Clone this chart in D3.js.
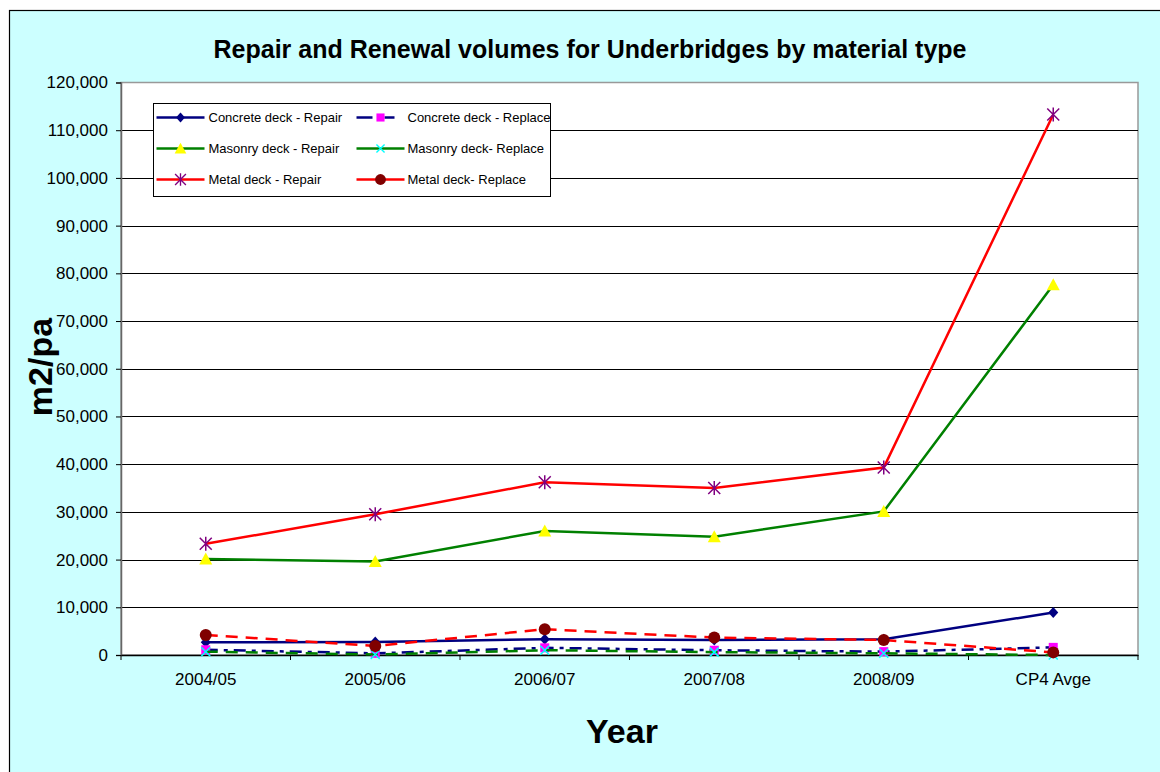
<html>
<head>
  <title>Repair and Renewal volumes</title>
  <script src="https://d3js.org/d3.v7.min.js"></script>
  <style>
    body { margin: 0; background: #fff; }
    text { font-family: Arial, "Liberation Sans", sans-serif; fill: #000; }
  </style>
</head>
<body>
<script>
  // categories and tick values
  var years = ['2004/05', '2005/06', '2006/07', '2007/08', '2008/09', 'CP4 Avge']
  var yTicks = [0, 10000, 20000, 30000, 40000, 50000, 60000, 70000, 80000, 90000, 100000, 110000, 120000]

  // series values (m2 per annum)
  var concreteRepair  = [2650, 2750, 3300, 3150, 3300, 8900]
  var concreteReplace = [1100, 350, 1500, 1000, 700, 1600]
  var masonryRepair   = [20100, 19600, 26000, 24800, 30100, 77600]
  var masonryReplace  = [700, 100, 1000, 600, 350, 0]
  var metalRepair     = [23300, 29500, 36200, 35000, 39300, 113300]
  var metalReplace    = [4200, 1900, 5400, 3650, 3150, 550]

  var seriesNames = ['Concrete deck - Repair', 'Concrete deck - Replace', 'Masonry deck - Repair',
                     'Masonry deck- Replace', 'Metal deck - Repair', 'Metal deck- Replace']

  var series = [
    { name: seriesNames[0], values: concreteRepair,  line: '#000080', dash: null,        marker: 'diamond',  mfill: '#000080' },
    { name: seriesNames[1], values: concreteReplace, line: '#000080', dash: '12,6,4,6',  marker: 'square',   mfill: '#FF00FF' },
    { name: seriesNames[2], values: masonryRepair,   line: '#008000', dash: null,        marker: 'triangle', mfill: '#FFFF00' },
    { name: seriesNames[3], values: masonryReplace,  line: '#008000', dash: '12,8',      marker: 'cross',    mfill: '#00FFFF' },
    { name: seriesNames[4], values: metalRepair,     line: '#FF0000', dash: null,        marker: 'star',     mfill: '#800080' },
    { name: seriesNames[5], values: metalReplace,    line: '#FF0000', dash: '12,8',      marker: 'circle',   mfill: '#800000' }
  ]

  var W = 1160, H = 772
  var margin = { top: 82.5, right: 22, bottom: 117, left: 121 }
  var w = W - margin.left - margin.right
  var h = H - margin.top - margin.bottom

  var svg = d3.select('body').append('svg')
      .attr('width', W)
      .attr('height', H)

  // chart background + frame
  svg.append('rect')
      .attr('x', 9.5).attr('y', 10.5)
      .attr('width', W).attr('height', H)
      .attr('fill', '#CCFFFF')
      .attr('stroke', '#000')
      .attr('stroke-width', 1.2)

  var g = svg.append('g')
      .attr('transform', 'translate(' + margin.left + ',' + margin.top + ')')

  // Scales
  var xScale = d3.scaleBand().domain(years).range([0, w]).padding(0)
  var yScale = d3.scaleLinear().domain([0, 120000]).range([h, 0])
  var cx = function (i) { return xScale(years[i]) + xScale.bandwidth() / 2 }

  // plot area
  g.append('rect')
      .attr('width', w).attr('height', h)
      .attr('fill', '#fff')
      .attr('stroke', '#999')
      .attr('stroke-width', 1.5)

  // gridlines
  g.selectAll('.grid')
      .data(yTicks.slice(1, -1))
      .enter()
    .append('line')
      .attr('x1', 0).attr('x2', w)
      .attr('y1', function (d) { return Math.round(yScale(d) + margin.top) - margin.top + 0.5 })
      .attr('y2', function (d) { return Math.round(yScale(d) + margin.top) - margin.top + 0.5 })
      .attr('stroke', '#000')
      .attr('stroke-width', 1)

  // Y-axis
  var yAxis = d3.axisLeft(yScale)
    .tickValues(yTicks)
    .tickSize(5)
    .tickPadding(8)
    .tickFormat(d3.format(','))
  var ya = g.append('g').call(yAxis)
  ya.select('.domain').attr('stroke', '#666').attr('stroke-width', 1.5)
  ya.selectAll('.tick line').attr('stroke', '#000')
  ya.selectAll('text').style('font-size', '17px').attr('fill', '#000')

  // X-axis
  var xAxis = d3.axisBottom(xScale).tickSize(0).tickPadding(18)
  var xa = g.append('g')
      .attr('transform', 'translate(0,' + h + ')')
      .call(xAxis)
  xa.select('.domain').attr('stroke', '#000').attr('stroke-width', 1.5)
  xa.selectAll('text').style('font-size', '17px').attr('fill', '#000')
  xa.selectAll('.xtick')
      .data(years.concat(['end']))
      .enter()
    .append('line')
      .attr('x1', function (d) { return d === 'end' ? w : xScale(d) })
      .attr('x2', function (d) { return d === 'end' ? w : xScale(d) })
      .attr('y1', 0).attr('y2', 5)
      .attr('stroke', '#000')

  // markers
  function drawMarker(sel, type, fill, size) {
    var s = size || 1
    if (type === 'diamond') {
      sel.append('path').attr('d', 'M0,-5.5L5,0L0,5.5L-5,0Z').attr('fill', fill).attr('transform', 'scale(' + s + ')')
    } else if (type === 'square') {
      sel.append('rect').attr('x', -4.5 * s).attr('y', -4.5 * s).attr('width', 9 * s).attr('height', 9 * s).attr('fill', fill)
    } else if (type === 'triangle') {
      sel.append('path').attr('d', 'M0,-6.5L6.5,5.5L-6.5,5.5Z').attr('fill', fill).attr('transform', 'scale(' + s + ')')
    } else if (type === 'cross') {
      sel.append('path').attr('d', 'M-4.5,-4.5L4.5,4.5M-4.5,4.5L4.5,-4.5').attr('stroke', fill).attr('stroke-width', 1.5).attr('transform', 'scale(' + s + ')')
    } else if (type === 'star') {
      sel.append('path').attr('d', 'M-6,-6L6,6M-6,6L6,-6M0,-7L0,7').attr('stroke', fill).attr('stroke-width', 1.5).attr('transform', 'scale(' + s + ')')
    } else if (type === 'circle') {
      sel.append('circle').attr('r', 6 * s).attr('fill', fill)
    }
  }

  var line = d3.line()
    .x(function (d, i) { return cx(i) })
    .y(function (d) { return yScale(d) })

  series.forEach(function (s) {
    g.append('path')
      .datum(s.values)
      .attr('d', line)
      .attr('fill', 'none')
      .attr('stroke', s.line)
      .attr('stroke-width', 2.5)
      .attr('stroke-dasharray', s.dash)
    s.values.forEach(function (v, i) {
      var m = g.append('g').attr('transform', 'translate(' + cx(i) + ',' + yScale(v) + ')')
      drawMarker(m, s.marker, s.mfill)
    })
  })

  // Legend
  var lg = svg.append('g').attr('transform', 'translate(153.5,103.5)')
  lg.append('rect')
      .attr('width', 397).attr('height', 93)
      .attr('fill', '#fff')
      .attr('stroke', '#000')
      .attr('stroke-width', 1)
  series.forEach(function (s, i) {
    var col = i % 2, row = Math.floor(i / 2)
    var x0 = col === 0 ? 3 : 203
    var y0 = 14 + row * 31
    var item = lg.append('g').attr('transform', 'translate(' + x0 + ',' + y0 + ')')
    item.append('line')
        .attr('x1', 0).attr('x2', 48)
        .attr('stroke', s.line)
        .attr('stroke-width', 2.5)
        .attr('stroke-dasharray', s.dash ? (s.marker === 'square' ? '16,4,0,8,10' : null) : null)
    var m = item.append('g').attr('transform', 'translate(24,0)')
    drawMarker(m, s.marker, s.mfill, 0.9)
    item.append('text')
        .attr('x', col === 0 ? 52 : 51)
        .attr('dy', '0.35em')
        .style('font-size', '13px')
        .text(s.name)
  })

  // Titles
  svg.append('text')
      .attr('x', 590).attr('y', 58)
      .attr('text-anchor', 'middle')
      .style('font-size', '25px').style('font-weight', 'bold')
      .text('Repair and Renewal volumes for Underbridges by material type')
  svg.append('text')
      .attr('transform', 'translate(52,367) rotate(-90)')
      .attr('text-anchor', 'middle')
      .style('font-size', '34px').style('font-weight', 'bold')
      .text('m2/pa')
  svg.append('text')
      .attr('x', 622).attr('y', 743)
      .attr('text-anchor', 'middle')
      .style('font-size', '34px').style('font-weight', 'bold')
      .text('Year')
</script>
</body>
</html>
